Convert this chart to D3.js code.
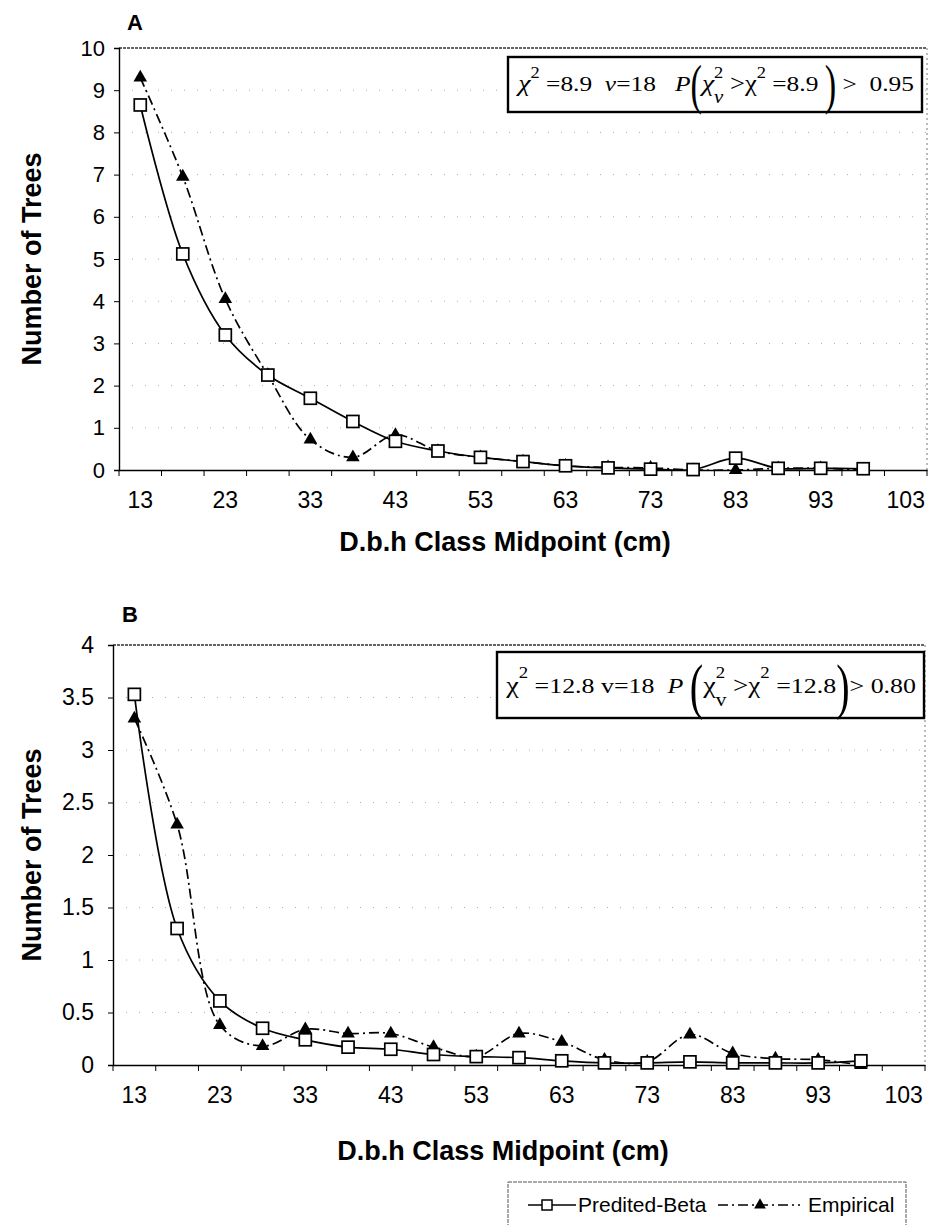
<!DOCTYPE html>
<html>
<head>
<meta charset="utf-8">
<script src="https://cdnjs.cloudflare.com/ajax/libs/d3/7.8.5/d3.min.js"></script>
<style>
  body { margin: 0; background: #fff; }
  svg { display: block; }
  .tick text { font-family: "Liberation Sans", Arial, sans-serif; fill: #000; }
  .title { font-family: "Liberation Sans", Arial, sans-serif; font-weight: bold; fill: #000; }
  .formula text { font-family: "Liberation Serif", "Times New Roman", serif; fill: #000; white-space: pre; }
</style>
</head>
<body>
<script>
var svgWidth = 935;
var svgHeight = 1225;

// category axis (class midpoints) and labels every other class
var axisCats = [13, 18, 23, 28, 33, 38, 43, 48, 53, 58, 63, 68, 73, 78, 83, 88, 93, 98, 103];
var dataCats = [13, 18, 23, 28, 33, 38, 43, 48, 53, 58, 63, 68, 73, 78, 83, 88, 93, 98];
var xTickLabels = [13, 23, 33, 43, 53, 63, 73, 83, 93, 103];

// panel A
var predA = [8.65, 5.12, 3.2, 2.25, 1.7, 1.15, 0.68, 0.45, 0.3, 0.2, 0.1, 0.05, 0.02, 0.01, 0.28, 0.04, 0.04, 0.03];
var empA  = [9.3, 6.95, 4.05, 2.25, 0.72, 0.3, 0.83, 0.45, 0.3, 0.2, 0.1, 0.06, 0.05, 0.0, 0.0, 0.04, 0.04, 0.0];
var yTicksA = [0, 1, 2, 3, 4, 5, 6, 7, 8, 9, 10];

// panel B
var predB = [3.53, 1.3, 0.61, 0.35, 0.24, 0.17, 0.15, 0.1, 0.08, 0.07, 0.04, 0.02, 0.02, 0.03, 0.02, 0.02, 0.02, 0.04];
var empB  = [3.3, 2.29, 0.38, 0.18, 0.34, 0.3, 0.3, 0.17, 0.08, 0.3, 0.22, 0.05, 0.03, 0.29, 0.11, 0.06, 0.05, 0.0];
var yTicksB = [0, 0.5, 1, 1.5, 2, 2.5, 3, 3.5, 4];

var svg = d3.select("body")
            .append("svg")
            .attr("width", svgWidth)
            .attr("height", svgHeight);

// writes a formula out of pieces, then fits it into the box
function drawFormula(box, pieces) {
    svg.append("rect")
       .attr("x", box.x).attr("y", box.y)
       .attr("width", box.w).attr("height", box.h)
       .attr("fill", "#fff")
       .attr("stroke", "#000")
       .attr("stroke-width", 2.4);

    var g = svg.append("g").attr("class", "formula");
    var cx = 0;
    pieces.forEach(function(p) {
        var t = g.append("text")
                 .attr("x", cx)
                 .attr("y", p.dy || 0)
                 .attr("font-size", p.size || 22)
                 .attr("font-style", p.italic ? "italic" : null)
                 .text(p.t);
        if (p.sx) {
            t.attr("transform", `translate(${cx},0) scale(${p.sx},1) translate(${-cx},0)`);
        }
        var w = t.node().getComputedTextLength() * (p.sx || 1);
        if (!p.stack) cx += w;
    });
    var bb = g.node().getBBox();
    var k = Math.min(1.25, (box.w - 16) / bb.width);
    g.attr("transform", `translate(${box.x + 8 - bb.x * k}, ${box.base}) scale(${k},1)`);
}

function drawPanel(cfg) {
    var x = d3.scaleBand().domain(axisCats).range(cfg.xRange);
    var y = d3.scaleLinear().domain([0, d3.max(cfg.yTicks)]).range(cfg.yRange);
    var cxOf = function(c) { return x(c) + x.bandwidth() / 2; };
    var left = cfg.xRange[0], right = cfg.xRange[1];

    var chartGroup = svg.append("g");

    // faint dotted gridlines
    chartGroup.selectAll(".grid").data(cfg.yTicks.slice(1, -1)).enter()
        .append("line")
        .attr("x1", left).attr("x2", right)
        .attr("y1", d => y(d)).attr("y2", d => y(d))
        .attr("stroke", "#aaa")
        .attr("stroke-dasharray", "1,12")
        .attr("stroke-width", 1);

    // top and right frame, dotted like the scan
    chartGroup.append("line")
        .attr("x1", left).attr("x2", right)
        .attr("y1", y(d3.max(cfg.yTicks))).attr("y2", y(d3.max(cfg.yTicks)))
        .attr("stroke", "#333").attr("stroke-dasharray", "3,1").attr("stroke-width", 1.3);
    chartGroup.append("line")
        .attr("x1", right).attr("x2", right)
        .attr("y1", y(d3.max(cfg.yTicks))).attr("y2", y(0))
        .attr("stroke", "#777").attr("stroke-dasharray", "2,3").attr("stroke-width", 1);

    // y axis
    var leftAxis = d3.axisLeft(y).tickValues(cfg.yTicks).tickSize(5).tickPadding(cfg.tickPad)
                     .tickFormat(d => String(d));
    var yAxis = chartGroup.append("g")
                          .attr("transform", `translate(${left}, 0)`)
                          .call(leftAxis);
    yAxis.selectAll("text").attr("font-size", cfg.tickSize);
    yAxis.select(".domain").attr("stroke-width", 1.4);

    // x axis: labels at every other class, ticks on class boundaries
    var bottomAxis = d3.axisBottom(x).tickValues(xTickLabels).tickSize(0).tickPadding(cfg.labelPad);
    var xAxis = chartGroup.append("g")
                          .attr("transform", `translate(0, ${y(0)})`)
                          .call(bottomAxis);
    xAxis.selectAll("text").attr("font-size", 23);
    xAxis.select(".domain").attr("stroke-width", 1.4);
    var bounds = axisCats.map(c => x(c)).concat([right]);
    xAxis.selectAll(".btick").data(bounds).enter()
        .append("line")
        .attr("x1", d => d).attr("x2", d => d)
        .attr("y1", 0).attr("y2", 6)
        .attr("stroke", "#000");

    // series
    var line = d3.line()
                 .x((d, i) => cxOf(dataCats[i]))
                 .y(d => y(d))
                 .curve(d3.curveCatmullRom.alpha(0.5));

    chartGroup.append("path")
        .attr("d", line(cfg.emp))
        .attr("fill", "none")
        .attr("stroke", "#000")
        .attr("stroke-width", 1.7)
        .attr("stroke-dasharray", "10,4,2,4");

    chartGroup.append("path")
        .attr("d", line(cfg.pred))
        .attr("fill", "none")
        .attr("stroke", "#000")
        .attr("stroke-width", 1.7);

    var tri = d3.symbol().type(d3.symbolTriangle).size(80);
    chartGroup.selectAll(".tri").data(cfg.emp).enter()
        .append("path")
        .attr("d", tri)
        .attr("transform", (d, i) => `translate(${cxOf(dataCats[i])}, ${y(d)})`)
        .attr("fill", "#000");

    chartGroup.selectAll(".sq").data(cfg.pred).enter()
        .append("rect")
        .attr("x", (d, i) => cxOf(dataCats[i]) - 6)
        .attr("y", d => y(d) - 6)
        .attr("width", 12).attr("height", 12)
        .attr("fill", "#fff")
        .attr("stroke", "#000")
        .attr("stroke-width", 1.7);

    // titles
    svg.append("text").attr("class", "title")
       .attr("x", cfg.letter[0]).attr("y", cfg.letter[1])
       .attr("text-anchor", "middle").attr("font-size", 22)
       .text(cfg.name);

    svg.append("text").attr("class", "title")
       .attr("transform", `translate(41, ${(cfg.yRange[0] + cfg.yRange[1]) / 2}) rotate(-90)`)
       .attr("text-anchor", "middle").attr("font-size", 27)
       .text("Number of Trees");

    svg.append("text").attr("class", "title")
       .attr("x", cfg.xTitle[0]).attr("y", cfg.xTitle[1])
       .attr("text-anchor", "middle").attr("font-size", 27)
       .text("D.b.h Class Midpoint (cm)");
}

drawPanel({
    name: "A", letter: [135, 30],
    xRange: [119, 927], yRange: [470, 48], yTicks: yTicksA,
    pred: predA, emp: empA, tickPad: 9, tickSize: 22, labelPad: 22,
    xTitle: [505, 551]
});

drawPanel({
    name: "B", letter: [130, 622],
    xRange: [113, 925], yRange: [1065, 645], yTicks: yTicksB,
    pred: predB, emp: empB, tickPad: 14, tickSize: 23, labelPad: 22,
    xTitle: [503, 1160]
});

drawFormula({x: 508, y: 57, w: 414, h: 55, base: 91}, [
    {t: "\u03c7", italic: true, size: 24},
    {t: "2", size: 16, dy: -13},
    {t: " =8.9  "},
    {t: "\u03bd", italic: true},
    {t: "=18   "},
    {t: "P", italic: true},
    {t: "(", size: 54, dy: 12, sx: 0.55},
    {t: "\u03c7", italic: true, size: 24},
    {t: "2", size: 16, dy: -13, stack: true},
    {t: "\u03bd", italic: true, size: 18, dy: 12},
    {t: " >\u03c7", size: 23},
    {t: "2", size: 16, dy: -13},
    {t: " =8.9 "},
    {t: ")", size: 54, dy: 12, sx: 0.55},
    {t: " >  0.95"}
]);

drawFormula({x: 497, y: 652, w: 427, h: 66, base: 693}, [
    {t: "\u03c7", size: 24},
    {t: "2", size: 16, dy: -15},
    {t: " =12.8 v=18  "},
    {t: "P", italic: true},
    {t: " "},
    {t: "(", size: 62, dy: 14, sx: 0.55},
    {t: "\u03c7", size: 24},
    {t: "2", size: 16, dy: -15, stack: true},
    {t: "v", size: 18, dy: 13},
    {t: " >\u03c7", size: 23},
    {t: "2", size: 16, dy: -15},
    {t: " =12.8"},
    {t: ")", size: 62, dy: 14, sx: 0.55},
    {t: "> 0.80"}
]);

// legend
var legend = svg.append("g");
legend.append("rect")
      .attr("x", 508).attr("y", 1182).attr("width", 398).attr("height", 60)
      .attr("fill", "#fff").attr("stroke", "#555").attr("stroke-width", 1)
      .attr("stroke-dasharray", "4,1");
legend.append("line").attr("x1", 528).attr("x2", 576).attr("y1", 1205).attr("y2", 1205)
      .attr("stroke", "#000").attr("stroke-width", 1.7);
legend.append("rect").attr("x", 542).attr("y", 1200).attr("width", 10).attr("height", 10)
      .attr("fill", "#fff").attr("stroke", "#000").attr("stroke-width", 1.5);
legend.append("text").attr("x", 578).attr("y", 1212)
      .attr("font-family", "'Liberation Sans', Arial, sans-serif").attr("font-size", 21)
      .text("Predited-Beta");
legend.append("line").attr("x1", 718).attr("x2", 800).attr("y1", 1205).attr("y2", 1205)
      .attr("stroke", "#000").attr("stroke-width", 1.7).attr("stroke-dasharray", "10,4,2,4");
legend.append("path").attr("d", d3.symbol().type(d3.symbolTriangle).size(60))
      .attr("transform", "translate(760, 1205)").attr("fill", "#000");
legend.append("text").attr("x", 808).attr("y", 1212)
      .attr("font-family", "'Liberation Sans', Arial, sans-serif").attr("font-size", 21)
      .text("Empirical");
</script>
</body>
</html>
